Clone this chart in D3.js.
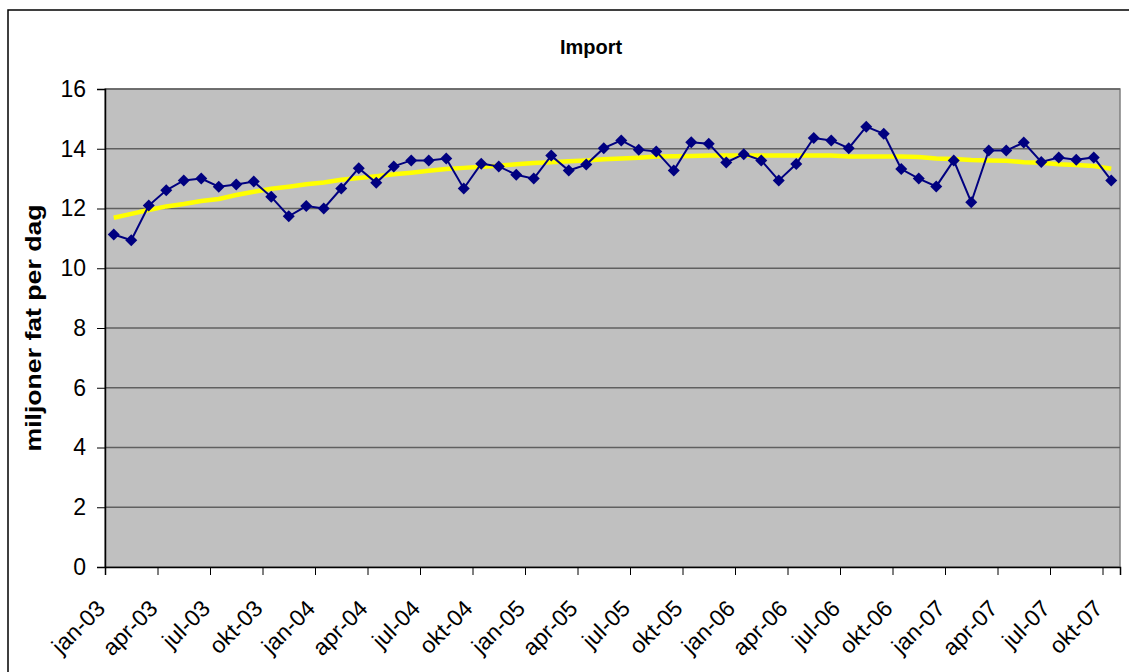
<!DOCTYPE html>
<html>
<head>
<meta charset="utf-8">
<script src="https://cdn.jsdelivr.net/npm/d3@7"></script>
<style>
  body { margin: 0; background: #fff; }
  text { font-family: "Liberation Sans", Arial, sans-serif; }
</style>
</head>
<body>
<script>
// month names and years for the category axis
var monthNames = ['jan','feb','mar','apr','mai','jun','jul','aug','sep','okt','nov','des'];
var years = ['03','04','05','06','07'];

var months = [];
years.forEach(function (y) {
  monthNames.forEach(function (m) { months.push(m + '-' + y); });
});
months = months.slice(0, 58); // jan-03 .. okt-07

// import, million barrels per day
var importValues = [
  11.13, 10.94, 12.10, 12.61, 12.94, 13.00, 12.73, 12.80, 12.90, 12.39, 11.74, 12.08,
  12.00, 12.67, 13.35, 12.86, 13.41, 13.61, 13.61, 13.67, 12.67, 13.50, 13.41, 13.13,
  13.00, 13.77, 13.27, 13.47, 14.02, 14.28, 13.97, 13.91, 13.27, 14.22, 14.17, 13.54,
  13.82, 13.61, 12.94, 13.49, 14.36, 14.28, 14.02, 14.74, 14.50, 13.32, 13.00, 12.74,
  13.61, 12.21, 13.94, 13.94, 14.21, 13.56, 13.71, 13.63, 13.71, 12.94
];

// the yellow smoothed line
var trendValues = [
  11.69, 11.82, 11.95, 12.07, 12.15, 12.25, 12.32, 12.45, 12.56, 12.66, 12.73, 12.81,
  12.87, 12.96, 13.02, 13.08, 13.15, 13.20, 13.26, 13.32, 13.36, 13.40, 13.43, 13.48,
  13.52, 13.55, 13.58, 13.61, 13.65, 13.67, 13.70, 13.74, 13.75, 13.76, 13.77, 13.77,
  13.77, 13.77, 13.77, 13.77, 13.77, 13.77, 13.74, 13.74, 13.74, 13.74, 13.72, 13.67,
  13.66, 13.62, 13.61, 13.60, 13.55, 13.53, 13.48, 13.46, 13.42, 13.33
];

var yTicks = [0, 2, 4, 6, 8, 10, 12, 14, 16];

var svgWidth = 1129, svgHeight = 672;
var plotLeft = 105, plotRight = 1120, plotTop = 89, plotBottom = 567;
var fontFamily = '"Liberation Sans", Arial, sans-serif';

var svg = d3.select('body').append('svg')
  .attr('width', svgWidth)
  .attr('height', svgHeight);

// outer chart frame
svg.append('rect')
  .attr('x', 8).attr('y', 10)
  .attr('width', 1160).attr('height', 700)
  .attr('fill', '#fff')
  .attr('stroke', '#000')
  .attr('stroke-width', 1.5);

var x = d3.scaleBand().domain(months).range([plotLeft, plotRight]).padding(0);
var xTick = d3.scaleLinear().domain([0, months.length]).range([plotLeft, plotRight]);
var y = d3.scaleLinear().domain([0, 16]).range([plotBottom, plotTop]);

// plot area
svg.append('rect')
  .attr('x', plotLeft).attr('y', plotTop)
  .attr('width', plotRight - plotLeft).attr('height', plotBottom - plotTop)
  .attr('fill', '#c0c0c0')
  .attr('stroke', '#808080')
  .attr('stroke-width', 1.5);

// gridlines
svg.append('g').selectAll('line')
  .data(yTicks.filter(function (d) { return d > 0; }))
  .enter().append('line')
  .attr('x1', plotLeft).attr('x2', plotRight)
  .attr('y1', function (d) { return y(d); })
  .attr('y2', function (d) { return y(d); })
  .attr('stroke', '#606060')
  .attr('stroke-width', 1.3);

// y axis
var yAxis = svg.append('g')
  .attr('transform', 'translate(' + plotLeft + ',0)')
  .call(d3.axisLeft(y).tickValues(yTicks).tickSize(8).tickPadding(11));
yAxis.select('.domain').attr('stroke', '#000').attr('stroke-width', 1.5);
yAxis.selectAll('.tick line').attr('stroke', '#000');
yAxis.selectAll('text').attr('font-size', 23).attr('fill', '#000')
  .style('font-family', fontFamily);

// x axis, a tick every third month
var xAxis = svg.append('g')
  .attr('transform', 'translate(0,' + plotBottom + ')')
  .call(d3.axisBottom(xTick)
    .tickValues(d3.range(0, months.length, 3))
    .tickFormat(function (i) { return months[i]; })
    .tickSize(8));
xAxis.select('.domain').attr('stroke', '#000').attr('stroke-width', 1.5);
xAxis.selectAll('.tick line').attr('stroke', '#000');
xAxis.selectAll('text')
  .attr('font-size', 23).attr('fill', '#000')
  .style('font-family', fontFamily)
  .attr('text-anchor', 'end')
  .attr('x', 0).attr('y', 0).attr('dy', 0)
  .attr('transform', 'translate(1,43) rotate(-45)');

function cx(d, i) { return x(months[i]) + x.bandwidth() / 2; }

// yellow trend line
svg.append('path')
  .datum(trendValues)
  .attr('fill', 'none')
  .attr('stroke', '#ffff00')
  .attr('stroke-width', 4.5)
  .attr('d', d3.line().x(cx).y(function (d) { return y(d); }));

// import line
svg.append('path')
  .datum(importValues)
  .attr('fill', 'none')
  .attr('stroke', '#000080')
  .attr('stroke-width', 2)
  .attr('d', d3.line().x(cx).y(function (d) { return y(d); }));

// diamond markers
svg.append('g').selectAll('path')
  .data(importValues)
  .enter().append('path')
  .attr('d', d3.symbol(d3.symbolSquare, 72))
  .attr('fill', '#000080')
  .attr('transform', function (d, i) {
    return 'translate(' + cx(d, i) + ',' + y(d) + ') rotate(45)';
  });

// title
svg.append('text')
  .attr('x', 591).attr('y', 54)
  .attr('text-anchor', 'middle')
  .attr('font-size', 20).attr('font-weight', 'bold')
  .text('Import');

// y axis title
svg.append('text')
  .attr('transform', 'translate(41,' + 328 + ') rotate(-90)')
  .attr('text-anchor', 'middle')
  .attr('font-size', 22).attr('font-weight', 'bold')
  .attr('textLength', 247)
  .attr('lengthAdjust', 'spacingAndGlyphs')
  .text('miljoner fat per dag');
</script>
</body>
</html>
